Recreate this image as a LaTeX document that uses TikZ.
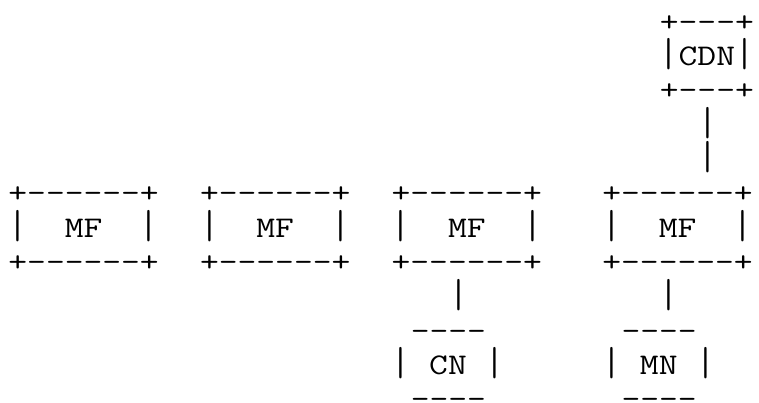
\documentclass[tikz,border=0pt]{standalone}
\usepackage{graphicx}
\usepackage{fontspec}
\setmonofont{Latin Modern Mono}[FakeStretch=1.2166]
\newcommand\vbar{\raisebox{-1.5pt}{\scalebox{1}[1.35]{|}}}
\begin{document}
\begin{tikzpicture}[x=1pt,y=-1pt,
  asc/.style={inner sep=0pt, outer sep=0pt, anchor=base west,
    font=\ttfamily\fontsize{30pt}{34pt}\selectfont}]
\useasboundingbox (0,0) rectangle (759,403);
% column c starts at 8.42 + 19.16*c ; row k baseline at 31.1 + 34.32*(k-1)
% CDN box
\node[asc] (cdnTop) at ({8.42+19.16*34},31.1) {+-{}-{}-+};
\node[asc] (cdnMid) at ({8.42+19.16*34},65.4) {\vbar CDN\vbar};
\node[asc] (cdnBot) at ({8.42+19.16*34},99.7) {+-{}-{}-+};
\node[asc] (linkA) at ({8.42+19.16*36},134.1) {\vbar};
\node[asc] (linkB) at ({8.42+19.16*36},168.4) {\vbar};
% MF boxes
\foreach \c/\n in {0/a,10/b,20/c,31/d}{
  \node[asc] (mf\n Top) at ({8.42+19.16*\c},202.7) {+-{}-{}-{}-{}-{}-+};
  \node[asc] (mf\n Mid) at ({8.42+19.16*\c},237.0) {\vbar~~MF~~\vbar};
  \node[asc] (mf\n Bot) at ({8.42+19.16*\c},271.3) {+-{}-{}-{}-{}-{}-+};
}
% CN
\node[asc] (linkC) at ({8.42+19.16*23},305.7) {\vbar};
\node[asc] (cnTop) at ({8.42+19.16*21},340.0) {-{}-{}-{}-};
\node[asc] (cnMid) at ({8.42+19.16*20},374.3) {\vbar~CN~\vbar};
\node[asc] (cnBot) at ({8.42+19.16*21},408.6) {-{}-{}-{}-};
% MN
\node[asc] (linkD) at ({8.42+19.16*34},305.7) {\vbar};
\node[asc] (mnTop) at ({8.42+19.16*32},340.0) {-{}-{}-{}-};
\node[asc] (mnMid) at ({8.42+19.16*31},374.3) {\vbar~MN~\vbar};
\node[asc] (mnBot) at ({8.42+19.16*32},408.6) {-{}-{}-{}-};
\end{tikzpicture}
\end{document}
